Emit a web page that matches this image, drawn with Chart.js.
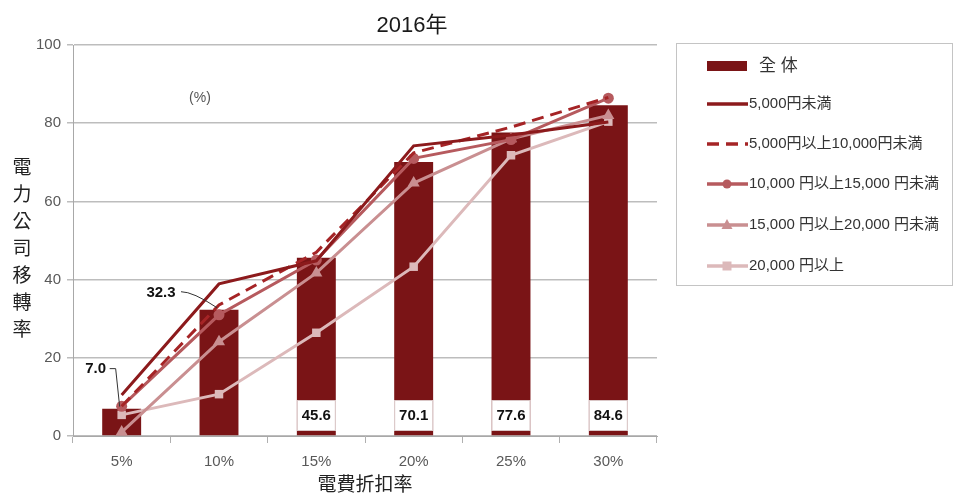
<!DOCTYPE html>
<html>
<head>
<meta charset="utf-8">
<script src="https://cdn.jsdelivr.net/npm/chart.js@4/dist/chart.umd.min.js"></script>
<style>
  html, body { margin: 0; padding: 0; background: #fff; }
  #wrap { position: relative; width: 955px; height: 499px; }
  #ytitle {
    position: absolute; left: 9px; top: 152px; width: 26px;
    font-family: "Noto Sans CJK TC", sans-serif; font-size: 19px; line-height: 27px;
    color: #222; text-align: center;
  }
</style>
</head>
<body>
<div id="wrap">
  <canvas id="c" width="955" height="499"></canvas>
  <div id="ytitle">電<br>力<br>公<br>司<br>移<br>轉<br>率</div>
</div>
<script>
// Discount levels and switching rates (%)
const categories = ['5%', '10%', '15%', '20%', '25%', '30%'];
const totalRate = [7.0, 32.3, 45.6, 70.1, 77.6, 84.6];
const under5000 = [10.5, 38.9, 44.8, 74.2, 77.0, 80.3];
const from5000to10000 = [7.6, 33.5, 47.0, 72.4, 79.0, 86.6];
const from10000to15000 = [7.6, 31.0, 45.0, 71.0, 75.8, 86.4];
const from15000to20000 = [1.0, 24.1, 41.7, 64.7, 76.0, 82.0];
const over20000 = [5.4, 10.7, 26.4, 43.3, 71.8, 80.4];
const yTicks = [0, 20, 40, 60, 80, 100];

const FONT = '"Liberation Sans Narrow", "Liberation Sans", Arial, sans-serif';
const CJK = '"Noto Sans CJK TC", "Noto Sans CJK JP", sans-serif';

const seriesNames = ['全 体', '5,000円未満', '5,000円以上10,000円未満',
  '10,000 円以上15,000 円未満', '15,000 円以上20,000 円未満', '20,000 円以上'];

// Value labels, legend and title drawn on the canvas
const decorPlugin = {
  id: 'decor',
  afterDatasetsDraw(chart) {
    const { ctx, scales: { x, y } } = chart;
    const barMeta = chart.getDatasetMeta(0);
    ctx.save();
    // boxed labels at the foot of the bars
    totalRate.forEach((v, i) => {
      const bar = barMeta.data[i];
      const w = bar.width;
      ctx.font = 'bold 15px ' + FONT;
      ctx.textAlign = 'center';
      ctx.textBaseline = 'middle';
      if (i >= 2) {
        const top = y.getPixelForValue(0) - 36;
        ctx.fillStyle = '#fff';
        ctx.fillRect(bar.x - w / 2, top, w, 31);
        ctx.strokeStyle = '#d9c6c6';
        ctx.lineWidth = 1;
        ctx.strokeRect(bar.x - w / 2 + 0.5, top + 0.5, w - 1, 30);
        ctx.fillStyle = '#111';
        ctx.fillText(v.toFixed(1), bar.x, top + 16);
      }
    });
    // callout labels for the first two bars
    const callouts = [
      { i: 0, dx: -26, dy: -40 },
      { i: 1, dx: -58, dy: -17 }
    ];
    callouts.forEach(c => {
      const px = x.getPixelForValue(c.i);
      const py = y.getPixelForValue(totalRate[c.i]);
      ctx.fillStyle = '#111';
      ctx.font = 'bold 15px ' + FONT;
      ctx.textAlign = 'center';
      ctx.fillText(totalRate[c.i].toFixed(1), px + c.dx, py + c.dy);
      ctx.strokeStyle = '#333';
      ctx.lineWidth = 1;
      ctx.beginPath();
      if (c.i === 0) {
        ctx.moveTo(px - 12, py - 40);
        ctx.lineTo(px - 6, py - 40);
        ctx.lineTo(px - 2, py - 2);
      } else {
        ctx.moveTo(px - 38, py - 18);
        ctx.quadraticCurveTo(px - 26, py - 18, px - 2, py - 2);
      }
      ctx.stroke();
    });
    // "(%)" unit note
    ctx.fillStyle = '#555';
    ctx.font = '14px ' + FONT;
    ctx.textAlign = 'center';
    ctx.fillText('(%)', 200, 98);
    // title
    ctx.fillStyle = '#1a1a1a';
    ctx.font = '22px ' + FONT + ', ' + CJK;
    ctx.fillText('2016年', 412, 26);

    // legend
    ctx.strokeStyle = '#c4c4c4';
    ctx.lineWidth = 1;
    ctx.strokeRect(676.5, 43.5, 276, 242);
    const rows = [66, 104, 144, 184, 225, 266];
    chart.data.datasets.forEach((ds, k) => {
      const ry = rows[k];
      if (k === 0) {
        ctx.fillStyle = ds.backgroundColor;
        ctx.fillRect(707, ry - 5, 40, 10);
      } else {
        ctx.strokeStyle = ds.borderColor;
        ctx.lineWidth = 3.5;
        ctx.setLineDash(ds.borderDash || []);
        ctx.beginPath();
        ctx.moveTo(707, ry);
        ctx.lineTo(748, ry);
        ctx.stroke();
        ctx.setLineDash([]);
        if (ds.pointRadius > 0) {
          ctx.fillStyle = ds.borderColor;
          const r = 4.5;
          ctx.beginPath();
          if (ds.pointStyle === 'circle') ctx.arc(727, ry, r, 0, Math.PI * 2);
          else if (ds.pointStyle === 'triangle') { ctx.moveTo(727, ry - 6); ctx.lineTo(732.5, ry + 4); ctx.lineTo(721.5, ry + 4); ctx.closePath(); }
          else ctx.rect(722.5, ry - 4.5, 9, 9);
          ctx.fill();
        }
      }
      ctx.fillStyle = '#333';
      ctx.textAlign = 'left';
      ctx.textBaseline = 'middle';
      ctx.font = (k === 0 ? '17px ' : '15px ') + FONT + ', ' + CJK;
      ctx.fillText(seriesNames[k], k === 0 ? 759 : 749, ry);
    });
    ctx.restore();
  }
};

const lineBase = { type: 'line', borderWidth: 3, pointBorderWidth: 0, tension: 0, order: 1 };

new Chart(document.getElementById('c'), {
  data: {
    labels: categories,
    datasets: [
      { type: 'bar', label: seriesNames[0], data: totalRate, backgroundColor: '#7a1416',
        barPercentage: 0.4, categoryPercentage: 1, order: 2 },
      { ...lineBase, label: seriesNames[1], data: under5000, borderColor: '#8c1a1c',
        pointRadius: 0 },
      { ...lineBase, label: seriesNames[2], data: from5000to10000, borderColor: '#a52426',
        borderDash: [12, 7], pointRadius: 0 },
      { ...lineBase, label: seriesNames[3], data: from10000to15000, borderColor: '#b65a5e',
        backgroundColor: '#b65a5e', pointStyle: 'circle', pointRadius: 5.5 },
      { ...lineBase, label: seriesNames[4], data: from15000to20000, borderColor: '#c98f91',
        backgroundColor: '#c98f91', pointStyle: 'triangle', pointRadius: 7 },
      { ...lineBase, label: seriesNames[5], data: over20000, borderColor: '#dcb9ba',
        backgroundColor: '#dcb9ba', pointStyle: 'rect', pointRadius: 6 }
    ]
  },
  options: {
    responsive: false,
    animation: false,
    layout: { padding: { left: 0, right: 298, top: 45, bottom: 0 } },
    plugins: { legend: { display: false }, tooltip: { enabled: false } },
    scales: {
      x: {
        offset: true,
        grid: { display: true, drawOnChartArea: false, drawTicks: true, tickLength: 7,
          color: '#b0b0b0', offset: true },
        border: { color: '#a8a8a8' },
        ticks: { color: '#595959', font: { family: FONT, size: 15 }, padding: 10 },
        title: { display: true, text: '電費折扣率', color: '#222',
          font: { family: CJK, size: 19 }, padding: { top: 0, bottom: 4 } },
        afterFit(s) { s.height = 63; }
      },
      y: {
        min: 0, max: 100,
        afterBuildTicks(s) { s.ticks = yTicks.map(v => ({ value: v })); },
        grid: { color: '#bdbdbd', lineWidth: 1.5, tickLength: 6 },
        border: { color: '#a8a8a8' },
        ticks: { color: '#595959', font: { family: FONT, size: 15 }, padding: 6 },
        afterFit(s) { s.width = 73; }
      }
    }
  },
  plugins: [decorPlugin]
});
</script>
</body>
</html>
